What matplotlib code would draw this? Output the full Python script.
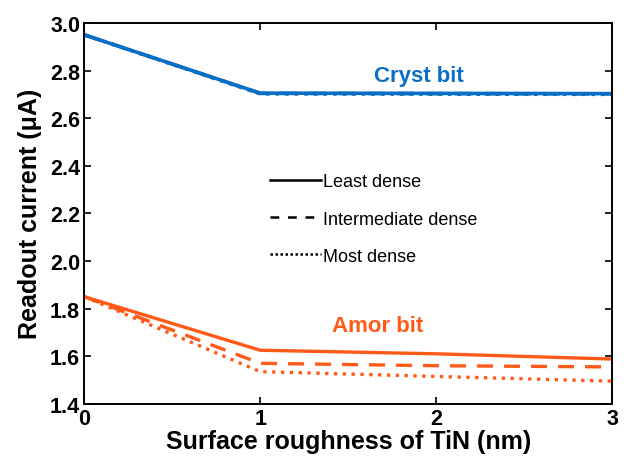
import matplotlib
matplotlib.use("Agg")
import matplotlib.pyplot as plt
from matplotlib.lines import Line2D

plt.rcParams['font.family'] = ['Liberation Sans', 'DejaVu Sans']

roughness = [0, 1, 2, 3]
labels = ["Least dense", "Intermediate dense", "Most dense"]
styles = ["-", (0, (4.8, 3.3)), ":"]
legend_styles = ["-", (0, (3.5, 3.5)), (0, (1, 1))]
cryst = [[2.95, 2.705, 2.704, 2.703],
         [2.95, 2.704, 2.703, 2.702],
         [2.95, 2.702, 2.701, 2.700]]
amor = [[1.85, 1.625, 1.61, 1.588],
        [1.85, 1.57, 1.56, 1.555],
        [1.85, 1.535, 1.515, 1.495]]

BLUE = "#0a6fc4"
ORANGE = "#ff5a17"

fig = plt.figure(figsize=(6.24, 4.6), dpi=100)
ax = fig.add_axes([0.135, 0.12, 0.846, 0.828])

for ys, ls in zip(cryst, styles):
    ax.plot(roughness, ys, color=BLUE, ls=ls, lw=2.6)
for ys, ls in zip(amor, styles):
    ax.plot(roughness, ys, color=ORANGE, ls=ls, lw=2.4)

ax.set_xlim(0, 3)
ax.set_ylim(1.4, 3.0)
ax.set_xticks([0, 1, 2, 3])
ax.set_yticks([1.4, 1.6, 1.8, 2.0, 2.2, 2.4, 2.6, 2.8, 3.0])
ax.set_yticklabels([f"{v:.1f}" for v in ax.get_yticks()])
ax.tick_params(direction="in", top=True, right=True, length=5, width=1.2,
               labelsize=15.5, pad=3)
for lab in ax.get_xticklabels() + ax.get_yticklabels():
    lab.set_fontweight("bold")
for s in ax.spines.values():
    s.set_linewidth(1.4)

ax.set_xlabel("Surface roughness of TiN (nm)", fontsize=18, fontweight="bold", labelpad=0)
ax.set_ylabel("Readout current (\u03bcA)", fontsize=18, fontweight="bold", labelpad=6)

ax.text(1.9, 2.756, "Cryst bit", color=BLUE, fontsize=16, fontweight="bold",
        ha="center", va="baseline")
ax.text(1.67, 1.706, "Amor bit", color=ORANGE, fontsize=16, fontweight="bold",
        ha="center", va="baseline")

handles = [Line2D([], [], color="black", ls=ls, lw=1.8) for ls in legend_styles]
ax.legend(handles, labels, frameon=False, fontsize=13, handlelength=2.8,
          handletextpad=0.1, labelspacing=1.12, loc="upper left",
          bbox_to_anchor=(0.339, 0.624), borderaxespad=0)

fig.savefig("out.png", dpi=100, facecolor="white")
